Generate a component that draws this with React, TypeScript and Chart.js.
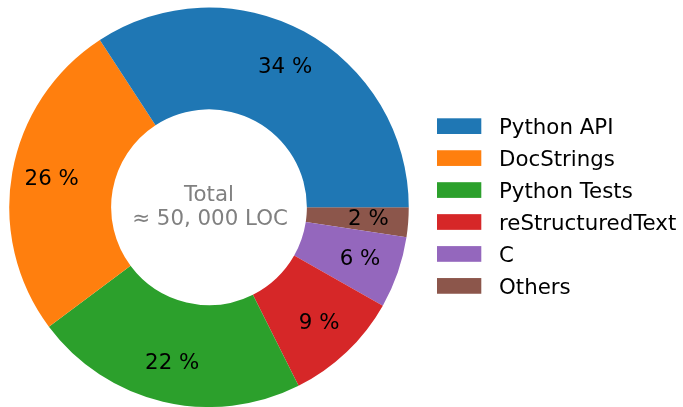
import React, { useEffect, useRef } from "react";
import { Chart, registerables } from "chart.js";

Chart.register(...registerables);

const categories = ["Python API", "DocStrings", "Python Tests", "reStructuredText", "C", "Others"];
const shares = [34.2, 26.0, 22.2, 9.4, 5.8, 2.4];
const colors = ["#1f77b4", "#ff7f0e", "#2ca02c", "#d62728", "#9467bd", "#8c564b"];
const centerLines = ["Total", "≈ 50, 000 LOC"];

const FONT_FAMILY = '"DejaVu Sans", "Noto Sans", sans-serif';
const FONT_SIZE = 21.33;
const FONT = `${FONT_SIZE}px ${FONT_FAMILY}`;

const labelsPlugin = {
  id: "mplLabels",
  afterDraw(chart: any) {
    const ctx = chart.ctx;
    const meta = chart.getDatasetMeta(0);
    const ds = chart.data.datasets[0];
    const values: number[] = ds.data as number[];
    const total = values.reduce((a, b) => a + b, 0);
    ctx.save();
    ctx.font = FONT;
    ctx.textAlign = "center";
    ctx.textBaseline = "alphabetic";
    ctx.fillStyle = "#000000";
    let cx = 0;
    let cy = 0;
    meta.data.forEach((arc: any, i: number) => {
      const p = arc.getProps(["startAngle", "endAngle", "x", "y", "outerRadius"], true);
      cx = p.x;
      cy = p.y;
      const mid = (p.startAngle + p.endAngle) / 2;
      const r = p.outerRadius * 0.8;
      const px = p.x + Math.cos(mid) * r;
      const py = p.y + Math.sin(mid) * r;
      const pct = Math.round((values[i] / total) * 100);
      ctx.fillText(`${pct} %`, px, py + 6);
    });

    // center text
    ctx.fillStyle = "#808080";
    ctx.fillText(centerLines[0], cx, cy - 6.5);
    ctx.fillText(centerLines[1], cx + 1, cy + 17.5);

    // legend (original order)
    const lx = 437;
    const ly = 118.3;
    const rowH = 31.95;
    const bw = 44.3;
    const bh = 15.7;
    ctx.textAlign = "left";
    categories.forEach((name, i) => {
      const top = ly + i * rowH;
      ctx.fillStyle = colors[i];
      ctx.fillRect(lx, top, bw, bh);
      ctx.fillStyle = "#000000";
      ctx.fillText(name, 499, top + bh / 2 + 7.8);
    });
    ctx.restore();
  },
};

export default function App() {
  const canvasRef = useRef<HTMLCanvasElement | null>(null);

  useEffect(() => {
    if (!canvasRef.current) return;
    // Chart.js draws clockwise; matplotlib counter-clockwise from 3 o'clock.
    const order = categories.map((_, i) => categories.length - 1 - i);
    const chart = new Chart(canvasRef.current, {
      type: "doughnut",
      data: {
        labels: order.map((i) => categories[i]),
        datasets: [
          {
            data: order.map((i) => shares[i]),
            backgroundColor: order.map((i) => colors[i]),
            borderWidth: 0,
            hoverOffset: 0,
            offset: 0,
          },
        ],
      },
      options: {
        responsive: false,
        animation: false,
        devicePixelRatio: 1,
        rotation: 90,
        cutout: "49%",
        layout: { padding: { left: 9, right: 274, top: 7.5, bottom: 0 } },
        plugins: {
          legend: { display: false },
          tooltip: { enabled: false },
        },
        events: [],
      },
      plugins: [labelsPlugin],
    });
    return () => chart.destroy();
  }, []);

  return (
    <div style={{ position: "absolute", left: 0, top: 0, width: 683, height: 407, background: "#ffffff" }}>
      <canvas ref={canvasRef} width={683} height={407} style={{ display: "block" }} />
    </div>
  );
}
